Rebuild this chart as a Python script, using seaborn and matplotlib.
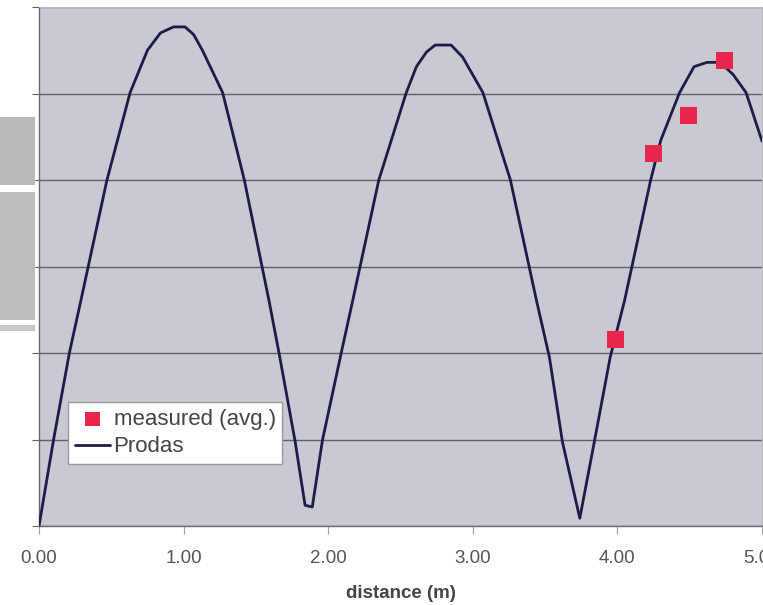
import matplotlib
matplotlib.use("Agg")
import matplotlib.pyplot as plt
from matplotlib.patches import Rectangle
import seaborn as sns
import pandas as pd

# Prodas curve (distance in m, value in grid units)
prodas_x = [0.00, 0.10, 0.21, 0.29, 0.47, 0.63, 0.75, 0.84, 0.93, 1.01, 1.07, 1.13,
            1.27, 1.42, 1.59, 1.66, 1.77, 1.84, 1.89, 1.96, 2.09, 2.17, 2.35, 2.54,
            2.61, 2.68, 2.74, 2.85, 2.93, 3.07, 3.26, 3.44, 3.53, 3.62, 3.74, 3.84,
            3.95, 4.05, 4.23, 4.30, 4.43, 4.53, 4.62, 4.71, 4.80, 4.89, 5.00]
prodas_y = [0.00, 0.99, 2.00, 2.61, 4.00, 5.01, 5.50, 5.70, 5.77, 5.77, 5.68, 5.50,
            5.01, 4.00, 2.61, 2.00, 0.99, 0.24, 0.22, 0.99, 2.00, 2.61, 4.00, 5.01,
            5.31, 5.48, 5.56, 5.56, 5.42, 5.01, 4.00, 2.61, 1.95, 0.97, 0.09, 0.97,
            1.95, 2.61, 4.00, 4.46, 5.01, 5.31, 5.36, 5.36, 5.22, 5.01, 4.45]

# measured averages
meas_x = [3.99, 4.25, 4.49, 4.74]
meas_y = [2.16, 4.31, 4.75, 5.38]

xticks = [0, 1, 2, 3, 4, 5]
xtick_labels = ["0.00", "1.00", "2.00", "3.00", "4.00", "5.00"]

sns.set_style("white")
plt.rcParams['font.family'] = ['Liberation Sans', 'DejaVu Sans']

fig = plt.figure(figsize=(7.63, 6.05), dpi=100)
fig.patch.set_facecolor("white")

# scan remnants on the left edge
fig.patches.append(Rectangle((0, 1 - 185/605), 35/763, 68/605, transform=fig.transFigure,
                             facecolor="#b9b9bb", edgecolor="none"))
fig.patches.append(Rectangle((0, 1 - 320/605), 35/763, 128/605, transform=fig.transFigure,
                             facecolor="#bdbdc0", edgecolor="none"))
fig.patches.append(Rectangle((0, 1 - 331/605), 35/763, 6/605, transform=fig.transFigure,
                             facecolor="#c8c8ca", edgecolor="none"))

ax = fig.add_axes([39/763, 1 - 526/605, (762-39)/763, (526-7)/605])
ax.set_facecolor("#c9c9d2")

df_line = pd.DataFrame({"x": prodas_x, "y": prodas_y})
df_meas = pd.DataFrame({"x": meas_x, "y": meas_y})

sns.lineplot(data=df_line, x="x", y="y", ax=ax, color="#1c1c48", linewidth=2.0,
             label="Prodas", zorder=3)
sns.scatterplot(data=df_meas, x="x", y="y", ax=ax, marker="s", s=150, color="#e8264c",
                edgecolor="none", label="measured (avg.)", zorder=4)

ax.set_xlim(0, 5)
ax.set_ylim(0, 6)
ax.set_yticks([0, 1, 2, 3, 4, 5, 6])
ax.yaxis.grid(True, color="#606068", linewidth=1.0)
ax.xaxis.grid(False)
ax.set_yticklabels([])
ax.tick_params(axis="y", length=5, color="#606068", left=True)
ax.set_xticks(xticks)
ax.set_xticklabels(xtick_labels, fontsize=13.5, color="#555555")
ax.tick_params(axis="x", length=6, color="#a0a0a0", bottom=True, pad=11)

for side in ["left", "bottom"]:
    ax.spines[side].set_color("#6a6a70")
    ax.spines[side].set_linewidth(1.0)
ax.spines["top"].set_color("#b8b8be")
ax.spines["right"].set_color("#b8b8be")

ax.set_ylabel("")
ax.set_xlabel("distance (m)", fontsize=13.5, fontweight="bold", color="#454545")
ax.xaxis.set_label_coords(0.5, -(593-526)/(526-7))
ax.xaxis.label.set_va("center")

handles, labels = ax.get_legend_handles_labels()
order = [labels.index("measured (avg.)"), labels.index("Prodas")]
leg = ax.legend([handles[i] for i in order], [labels[i] for i in order],
                loc="upper left", bbox_to_anchor=((68-39)/(762-39), 1 - (402-7)/(526-7)),
                frameon=True, fancybox=False, framealpha=1, edgecolor="#9a9a9a",
                facecolor="white", fontsize=16, handlelength=1.6, handletextpad=0.15,
                borderpad=0.3, labelspacing=0.3, borderaxespad=0, markerscale=0.85)
for t in leg.get_texts():
    t.set_color("#444444")

fig.savefig("out.png", dpi=100, facecolor="white")
